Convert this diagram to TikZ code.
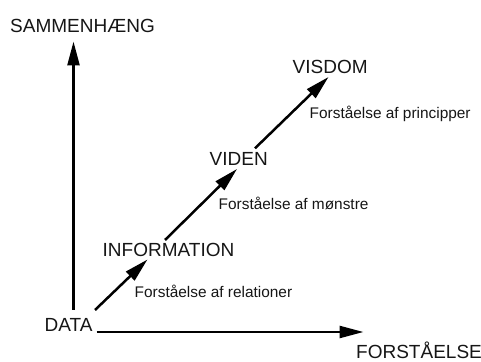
\documentclass[tikz,border=0pt]{standalone}
\usepackage{fontspec}
\setmainfont{Liberation Sans}
\usetikzlibrary{arrows.meta}
\definecolor{ink}{HTML}{161616}
\tikzset{
  stage/.style={anchor=base west, inner sep=0pt, text=ink, font=\fontsize{19}{21}\selectfont},
  note/.style={anchor=base west, inner sep=0pt, text=ink, font=\fontsize{15.4}{17}\selectfont},
  axis/.style={line width=2.5pt, -{Triangle[length=24pt,width=12pt]}},
  climb/.style={line width=2.5pt, -{Triangle[length=24pt,width=12pt]}}
}
\begin{document}
\begin{tikzpicture}[x=1pt,y=1pt]
  \useasboundingbox (0,0) rectangle (481,361);
  % labels
  \node[stage] (sam)  at (10,328)   {SAMMENHÆNG};
  \node[stage] (data) at (44.5,30)  {DATA};
  \node[stage] (forst) at (356,3)   {FORSTÅELSE};
  \node[stage] (info) at (102.5,104.3) {INFORMATION};
  \node[stage] (viden) at (209.5,195) {VIDEN};
  \node[stage] (visdom) at (292.5,287.7) {VISDOM};
  \node[note] (n1) at (134.5,63.3) {Forståelse af relationer};
  \node[note] (n2) at (218.5,151)  {Forståelse af mønstre};
  \node[note] (n3) at (309.5,242)  {Forståelse af principper};
  % arrow end points
  \coordinate (vbot) at (73.5,51);
  \coordinate (vtop) at (73.5,319.5);
  \coordinate (hleft) at (96.5,29);
  \coordinate (hright) at (363.5,29);
  \coordinate (d1a) at (95,51);
  \coordinate (d1b) at (147.5,101.5);
  \coordinate (d2a) at (165,121);
  \coordinate (d2b) at (237,192);
  \coordinate (d3a) at (255,212.7);
  \coordinate (d3b) at (328.5,284);
  % axes
  \draw[axis] (vbot) -- (vtop);
  \draw[axis] (hleft) -- (hright);
  % staircase
  \draw[climb] (d1a) -- (d1b);
  \draw[climb] (d2a) -- (d2b);
  \draw[climb] (d3a) -- (d3b);
\end{tikzpicture}
\end{document}
